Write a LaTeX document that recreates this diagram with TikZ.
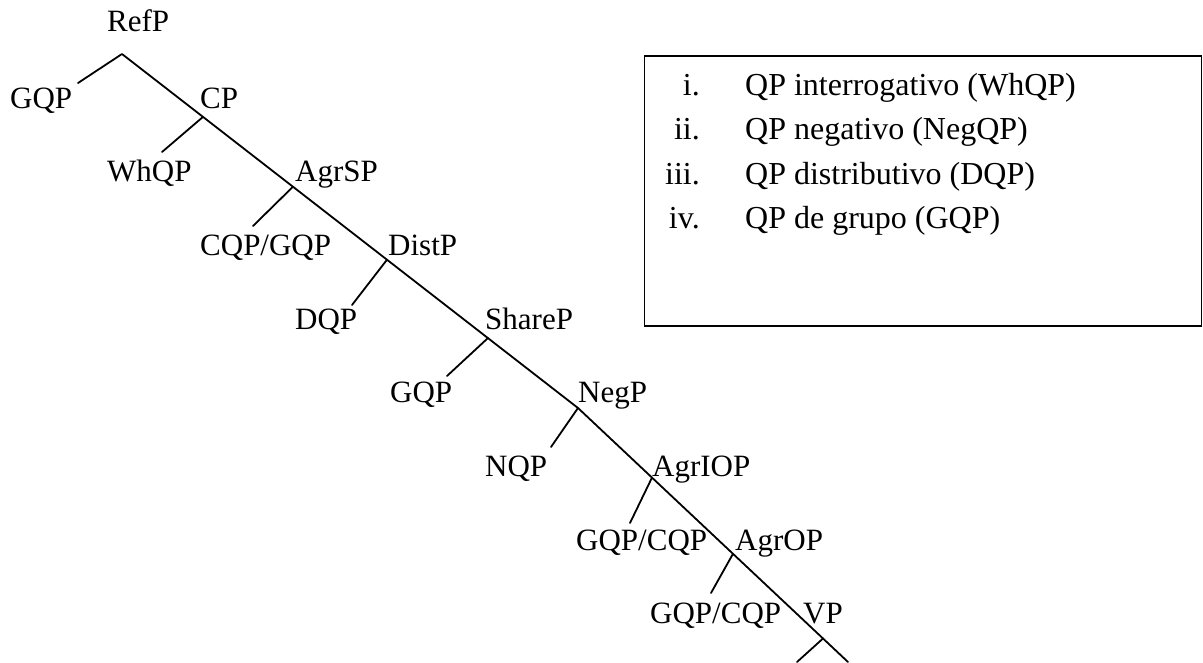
\documentclass[tikz,border=0pt]{standalone}
\usepackage{fontspec}
\setmainfont{Liberation Serif}
\begin{document}
\begin{tikzpicture}[x=1pt,y=-1pt,
  lbl/.style={anchor=base west,inner sep=0pt,font=\fontsize{31}{37}\selectfont},
  keytext/.style={anchor=base west,inner sep=0pt,font=\fontsize{32}{38}\selectfont},
  num/.style={anchor=base east,inner sep=0pt,font=\fontsize{32}{38}\selectfont},
  edge/.style={line width=1.8pt,line cap=round,line join=round},
  frame/.style={line width=1.8pt}]
\useasboundingbox (0,0) rectangle (1203,662);

% category labels
\node[lbl] (refp)   at (107,31)   {RefP};
\node[lbl] (gqpa)   at (10,108)   {GQP};
\node[lbl] (cp)     at (200,108)  {CP};
\node[lbl] (whqp)   at (107,181)  {WhQP};
\node[lbl] (agrsp)  at (295,181)  {AgrSP};
\node[lbl] (cqpg)   at (200,255)  {CQP/GQP};
\node[lbl] (distp)  at (388,255)  {DistP};
\node[lbl] (dqp)    at (295,329)  {DQP};
\node[lbl] (sharep) at (485,329)  {ShareP};
\node[lbl] (gqpb)   at (390,402)  {GQP};
\node[lbl] (negp)   at (578,402)  {NegP};
\node[lbl] (nqp)    at (485,476)  {NQP};
\node[lbl] (agriop) at (652,476)  {AgrIOP};
\node[lbl] (gcqa)   at (576,550)  {GQP/CQP};
\node[lbl] (agrop)  at (735,550)  {AgrOP};
\node[lbl] (gcqb)   at (650,623)  {GQP/CQP};
\node[lbl] (vp)     at (803,623)  {VP};

% spine: apex, bend at NegP, exit at the bottom edge
\coordinate (apex)     at (122,54);
\coordinate (jneg)     at (578,408);
\coordinate (spineend) at (848,662);

% junctions on the spine
\coordinate (jcp)    at (203,116.9);
\coordinate (jagrs)  at (293,186.7);
\coordinate (jdist)  at (387,259.7);
\coordinate (jshare) at (488,338);
\coordinate (jagrio) at (652,477.6);
\coordinate (jagro)  at (733,553.8);
\coordinate (jvp)    at (823,638.5);

% lower ends of the left branches
\coordinate (egqpa) at (78,83);
\coordinate (ewh)   at (162,152);
\coordinate (ecg)   at (253,226);
\coordinate (ed)    at (352,305);
\coordinate (egqpb) at (447,376);
\coordinate (en)    at (551,447);
\coordinate (egca)  at (630,523);
\coordinate (egcb)  at (711,593);
\coordinate (evp)   at (797,662);

\draw[edge] (egqpa) -- (apex) -- (jneg) -- (spineend);
\draw[edge] (jcp) -- (ewh);
\draw[edge] (jagrs) -- (ecg);
\draw[edge] (jdist) -- (ed);
\draw[edge] (jshare) -- (egqpb);
\draw[edge] (jneg) -- (en);
\draw[edge] (jagrio) -- (egca);
\draw[edge] (jagro) -- (egcb);
\draw[edge] (jvp) -- (evp);

% legend
\node[draw,frame,minimum width=557pt,minimum height=270pt,anchor=north west,inner sep=0pt] (legend) at (643.5,55) {};
\node[num]     (ni)   at (700,95)  {i.};
\node[keytext] (ti)   at (745,95)  {QP interrogativo (WhQP)};
\node[num]     (nii)  at (700,139) {ii.};
\node[keytext] (tii)  at (745,139) {QP negativo (NegQP)};
\node[num]     (niii) at (700,184) {iii.};
\node[keytext] (tiii) at (745,184) {QP distributivo (DQP)};
\node[num]     (niv)  at (700,228) {iv.};
\node[keytext] (tiv)  at (745,228) {QP de grupo (GQP)};
\end{tikzpicture}
\end{document}
